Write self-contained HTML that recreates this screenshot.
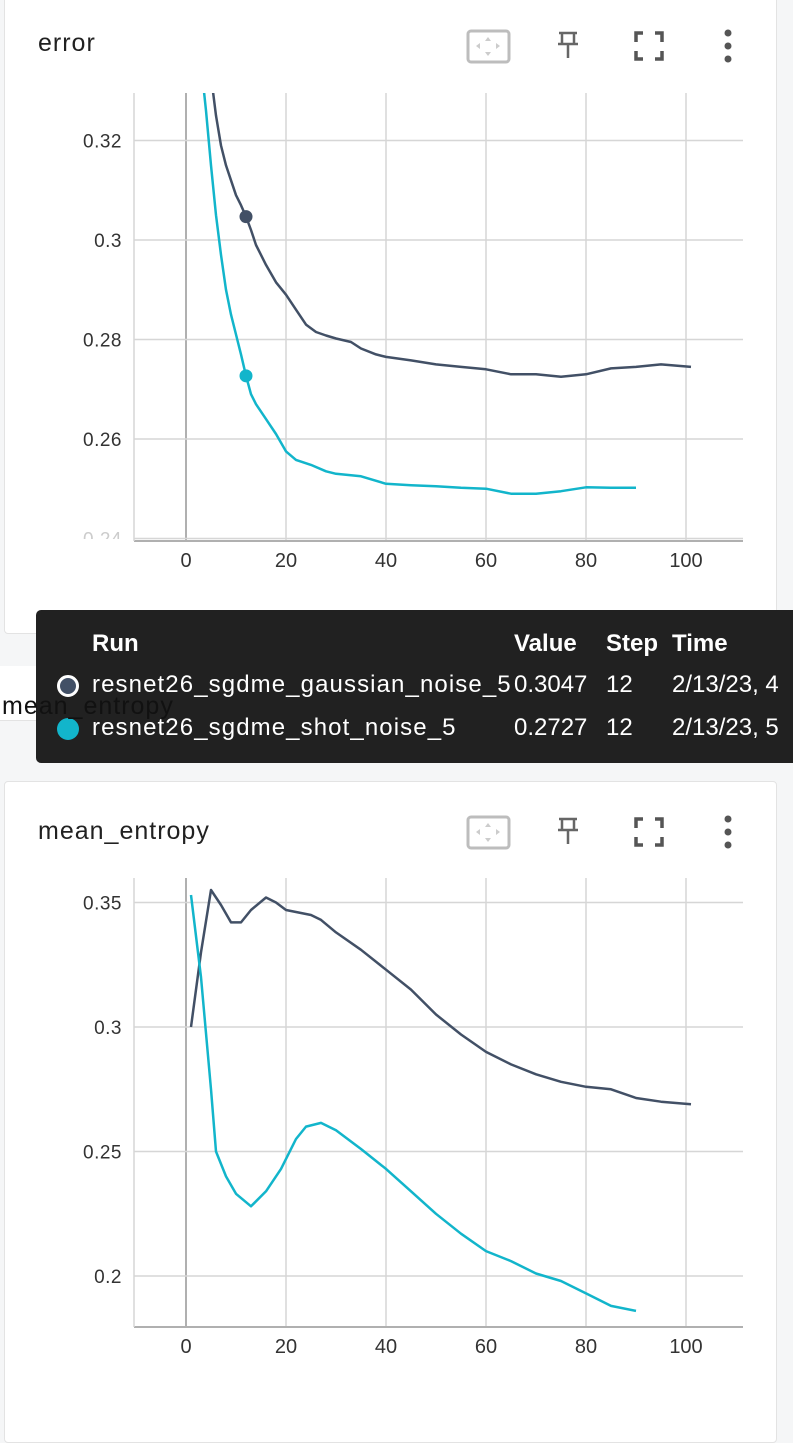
<!DOCTYPE html>
<html><head><meta charset="utf-8">
<style>
body{margin:0;width:793px;height:1415px;background:#f5f6f7;font-family:"Liberation Sans",sans-serif;overflow:hidden;position:relative}
.card{position:absolute;left:4px;width:771px;background:#fff;border:1px solid #e3e3e3;border-radius:4px}
.title{position:absolute;left:33px;font-size:25px;color:#212121;letter-spacing:1px}
svg{position:absolute;left:0;top:0}
.tt div{white-space:nowrap}
</style></head><body>
<div class="card" style="top:-4px;height:636px">
  <div class="title" style="top:32px">error</div>
</div>
<div style="position:absolute;left:0;top:666px;width:400px;height:54px;background:#fff;border-bottom:1px solid #e3e3e3"></div>
<div class="card" style="top:781px;height:660px">
  <div class="title" style="top:35px">mean_entropy</div>
</div>
<svg id="s" width="793" height="1415" xmlns="http://www.w3.org/2000/svg"></svg>
<div class="tt" style="position:absolute;left:36px;top:610px;width:770px;height:153px;background:#212121;border-radius:5px;color:#fff;font-size:24px;letter-spacing:1.1px">
  <div style="position:absolute;left:56px;top:20px;font-weight:bold;letter-spacing:0">Run</div>
  <div style="position:absolute;left:478px;top:20px;font-weight:bold;letter-spacing:0">Value</div>
  <div style="position:absolute;left:570px;top:20px;font-weight:bold;letter-spacing:0">Step</div>
  <div style="position:absolute;left:636px;top:20px;font-weight:bold;letter-spacing:0">Time</div>
  <div style="position:absolute;left:21px;top:65px;width:16px;height:16px;border-radius:50%;background:#425066;border:3px solid #fff"></div>
  <div style="position:absolute;left:56px;top:61px">resnet26_sgdme_gaussian_noise_5</div>
  <div style="position:absolute;left:478px;top:61px;letter-spacing:0">0.3047</div>
  <div style="position:absolute;left:570px;top:61px;letter-spacing:0">12</div>
  <div style="position:absolute;left:636px;top:61px;letter-spacing:0">2/13/23, 4</div>
  <div style="position:absolute;left:21px;top:108px;width:22px;height:22px;border-radius:50%;background:#12b5cb"></div>
  <div style="position:absolute;left:56px;top:104px">resnet26_sgdme_shot_noise_5</div>
  <div style="position:absolute;left:478px;top:104px;letter-spacing:0">0.2727</div>
  <div style="position:absolute;left:570px;top:104px;letter-spacing:0">12</div>
  <div style="position:absolute;left:636px;top:104px;letter-spacing:0">2/13/23, 5</div>
</div>
<div style="position:absolute;left:2px;top:692px;font-size:25px;color:#111;letter-spacing:1px;z-index:5">mean_entropy</div>
<script>
const xTicks=[0,20,40,60,80,100];
const errTicks=[0.24,0.26,0.28,0.30,0.32];
const errTickLabels=["0.24","0.26","0.28","0.3","0.32"];
const entTicks=[0.2,0.25,0.3,0.35];
const entTickLabels=["0.2","0.25","0.3","0.35"];
const errGaussSteps=[1,3,5,6,7,8,9,10,11,12,13,14,15,16,18,20,22,24,26,28,30,33,35,38,40,45,50,55,60,65,70,75,80,85,90,95,101];
const errGaussVals=[0.37,0.35,0.333,0.325,0.319,0.315,0.312,0.309,0.307,0.3047,0.302,0.299,0.297,0.295,0.2915,0.289,0.286,0.283,0.2815,0.2808,0.2802,0.2795,0.2782,0.277,0.2765,0.2758,0.275,0.2745,0.274,0.273,0.273,0.2725,0.273,0.2742,0.2745,0.275,0.2745];
const errShotSteps=[1,2,4,5,6,7,8,9,10,11,12,13,14,16,18,20,22,25,28,30,35,40,45,50,55,60,65,70,75,80,85,90];
const errShotVals=[0.36,0.345,0.326,0.315,0.305,0.297,0.290,0.285,0.281,0.277,0.2727,0.269,0.267,0.264,0.261,0.2575,0.2558,0.2548,0.2535,0.253,0.2525,0.251,0.2507,0.2505,0.2502,0.250,0.249,0.249,0.2495,0.2503,0.2502,0.2502];
const entGaussSteps=[1,3,5,7,9,11,13,16,18,20,25,27,30,35,40,45,50,55,60,65,70,75,80,85,90,95,101];
const entGaussVals=[0.300,0.330,0.355,0.349,0.342,0.342,0.347,0.352,0.350,0.347,0.345,0.343,0.338,0.331,0.323,0.315,0.305,0.297,0.290,0.285,0.281,0.278,0.276,0.275,0.2715,0.270,0.269];
const entShotSteps=[1,3,5,6,8,10,13,16,19,22,24,27,30,35,40,45,50,55,60,65,70,75,80,85,90];
const entShotVals=[0.353,0.320,0.275,0.250,0.240,0.233,0.228,0.234,0.243,0.255,0.260,0.2615,0.2585,0.251,0.243,0.234,0.225,0.217,0.210,0.206,0.201,0.198,0.193,0.188,0.186];
const NS="http://www.w3.org/2000/svg";
const svg=document.getElementById('s');
function mk(t,a,p){const e=document.createElementNS(NS,t);for(const k in a)e.setAttribute(k,a[k]);(p||svg).appendChild(e);return e;}
const xs=v=>186+v*5;
function chart(name,top,bottom,yTicks,yLabels,y,series,hover){
  const g=mk('g',{});
  
  
  const cid=name+'clip';
  const cp=mk('clipPath',{id:cid},g);mk('rect',{x:134,y:top,width:609,height:bottom-top},cp);
  const lp=mk('clipPath',{id:cid+'l'},g);mk('rect',{x:0,y:top-20,width:134,height:bottom-top+18},lp);
  xTicks.forEach(t=>{const l=mk('line',{x1:xs(t),x2:xs(t),y1:top,y2:bottom,stroke:t===0?'#b0b0b0':'#d6d6d6','stroke-width':t===0?2:1.5},g);
    const tx=mk('text',{x:xs(t),y:bottom+26,'text-anchor':'middle','font-size':20,fill:'#333','font-family':'Liberation Sans'},g);tx.textContent=t;});
  yTicks.forEach((t,i)=>{const yy=y(t);if(yy<top||yy>bottom+1)return;const l=mk('line',{x1:134,x2:743,y1:yy,y2:yy,stroke:'#d6d6d6','stroke-width':1.5},g);
    const tx=mk('text',{x:122,y:yy+7,'text-anchor':'end','font-size':19,fill:yy>bottom-6?'#ccc':'#333','font-family':'Liberation Sans','letter-spacing':0.5,'clip-path':'url(#'+cid+'l)'},g);tx.textContent=yLabels[i];});
  const ax=mk('line',{x1:134,x2:743,y1:bottom,y2:bottom,stroke:'#b0b0b0','stroke-width':2},g);
  const ay=mk('line',{x1:134,x2:134,y1:top,y2:bottom,stroke:'#d6d6d6','stroke-width':1.5},g);
  series.forEach(s=>{const d=s.steps.map((st,i)=>(i?'L':'M')+xs(st).toFixed(1)+','+y(s.vals[i]).toFixed(1)).join(' ');
    const p=mk('path',{d:d,fill:'none',stroke:s.color,'stroke-width':2.5,'clip-path':'url(#'+cid+')','stroke-linejoin':'round'},g);
    if(hover){const i=s.steps.indexOf(12);if(i>=0){const c=mk('circle',{cx:xs(12),cy:y(s.vals[i]),r:6.5,fill:s.color},g);}}});
}
chart('error',93,541,errTicks,errTickLabels,v=>240-(v-0.30)*4975,[
 {name:'error-gaussian-line',steps:errGaussSteps,vals:errGaussVals,color:'#425066'},
 {name:'error-shot-line',steps:errShotSteps,vals:errShotVals,color:'#12b5cb'}],true);
chart('entropy',878,1327,entTicks,entTickLabels,v=>1027-(v-0.30)*2490,[
 {name:'entropy-gaussian-line',steps:entGaussSteps,vals:entGaussVals,color:'#425066'},
 {name:'entropy-shot-line',steps:entShotSteps,vals:entShotVals,color:'#12b5cb'}],false);
function icons(y0,pref){
  const g=mk('g',{});
  
  
  const a=mk('rect',{x:468,y:y0-15,width:41,height:31,rx:3,fill:'none',stroke:'#bdbdbd','stroke-width':3},g);
  mk('path',{d:`M488 ${y0-9}l-3 4h6z M488 ${y0+10}l-3 -4h6z M476 ${y0}l4 -3v6z M500 ${y0}l-4 -3v6z`,fill:'#ccc'},g);
  const p=mk('path',{d:`M559 ${y0-13}h18 M562 ${y0-13}v10 M574 ${y0-13}v10 M558 ${y0-2}h20 M568 ${y0-2}v14`,stroke:'#666','stroke-width':2.5,fill:'none'},g);
  const f=mk('path',{d:`M636 ${y0-4}v-9h7 M655 ${y0-13}h7v9 M636 ${y0+5}v8h7 M655 ${y0+13}h7v-8`,stroke:'#555','stroke-width':3.5,fill:'none'},g);
  [-13,0,13].forEach(d=>{const c=mk('circle',{cx:728,cy:y0+d,r:3.5,fill:'#555'},g);});
}
icons(46,'error');
icons(832,'entropy');
</script>
</body></html>
